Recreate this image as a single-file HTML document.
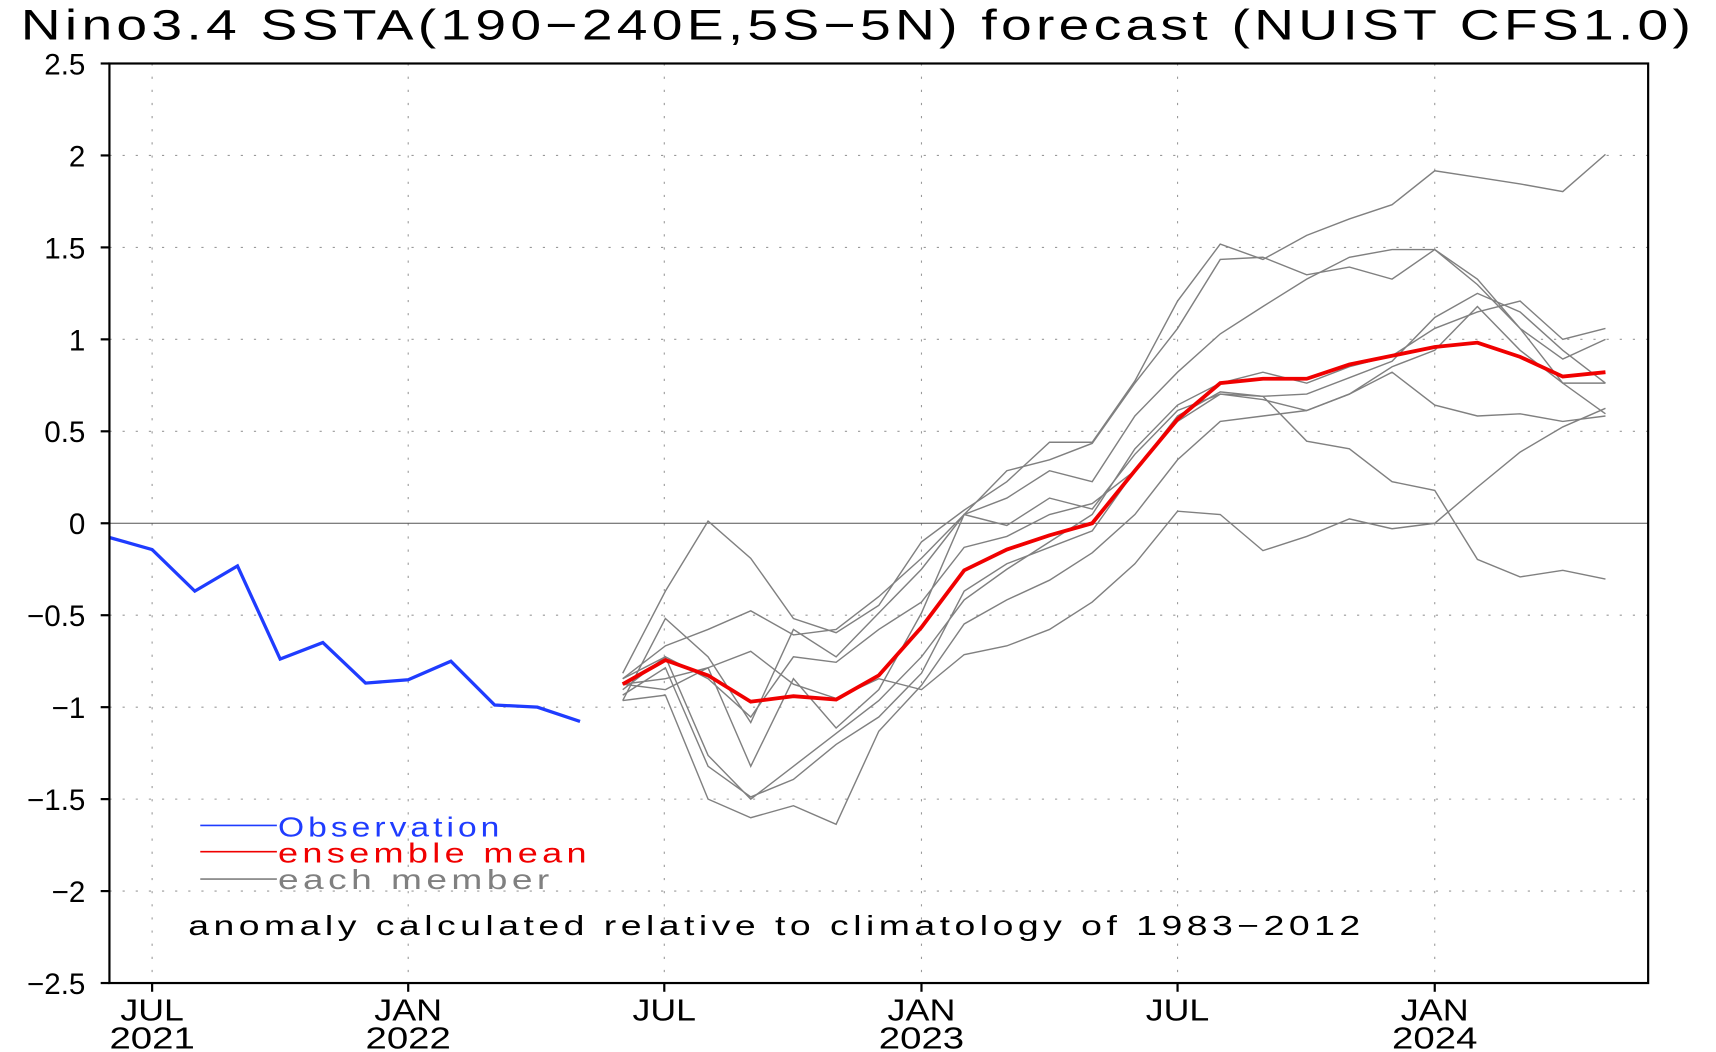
<!DOCTYPE html>
<html><head><style>html,body{margin:0;padding:0;background:#fff;overflow:hidden}svg{display:block}</style></head>
<body>
<svg width="1716" height="1052" viewBox="0 0 1568 961" preserveAspectRatio="none" xmlns="http://www.w3.org/2000/svg" font-family="'Liberation Sans','DejaVu Sans',sans-serif">
<rect width="1568" height="961" fill="#fff"/>
<text x="784" y="36" font-size="39" text-anchor="middle" letter-spacing="3" textLength="1530" lengthAdjust="spacingAndGlyphs">Nino3.4 SSTA(190−240E,5S−5N) forecast (NUIST CFS1.0)</text>
<g stroke="#999" stroke-width="1" stroke-dasharray="2,10">
<line x1="100" y1="142" x2="1506" y2="142"/><line x1="100" y1="226" x2="1506" y2="226"/><line x1="100" y1="310" x2="1506" y2="310"/><line x1="100" y1="394" x2="1506" y2="394"/><line x1="100" y1="562" x2="1506" y2="562"/><line x1="100" y1="646" x2="1506" y2="646"/><line x1="100" y1="730" x2="1506" y2="730"/><line x1="100" y1="814" x2="1506" y2="814"/>
<line x1="139" y1="58" x2="139" y2="898"/><line x1="373" y1="58" x2="373" y2="898"/><line x1="607" y1="58" x2="607" y2="898"/><line x1="842" y1="58" x2="842" y2="898"/><line x1="1076" y1="58" x2="1076" y2="898"/><line x1="1311" y1="58" x2="1311" y2="898"/>
</g>
<line x1="100" y1="478" x2="1506" y2="478" stroke="#555" stroke-width="1"/>
<g fill="none" stroke="#808080" stroke-width="1.3">
<polyline points="569,615 608,540 647,476 686,510 725,565 764,578 803,553 842,495 881,466 920,440 959,404 998,404 1037,348 1076,275 1115,223 1154,237 1194,215 1233,200 1272,187 1311,156 1350,162 1389,168 1428,175 1467,141"/>
<polyline points="569,640 608,565 647,600 686,660 725,575 764,600 803,560 842,520 881,470 920,430 959,420 998,405 1037,350 1076,300 1115,237 1154,235 1194,251 1233,244 1272,255 1311,228 1350,260 1389,300 1428,328 1467,310"/>
<polyline points="569,620 608,590 647,575 686,558 725,580 764,575 803,545 842,510 881,470 920,455 959,430 998,440 1037,380 1076,340 1115,305 1154,280 1194,255 1233,235 1272,228 1311,228 1350,255 1389,300 1428,350 1467,378"/>
<polyline points="569,630 608,600 647,690 686,730 725,700 764,670 803,640 842,600 881,548 920,520 959,495 998,470 1037,410 1076,370 1115,350 1154,340 1194,350 1233,335 1272,325 1311,300 1350,285 1389,275 1428,310 1467,300"/>
<polyline points="569,635 608,610 647,700 686,728 725,712 764,680 803,655 842,615 881,540 920,515 959,500 998,485 1037,430 1076,380 1115,358 1154,362 1194,360 1233,345 1272,330 1311,290 1350,268 1389,285 1428,320 1467,350"/>
<polyline points="569,625 608,620 647,610 686,700 725,620 764,665 803,630 842,560 881,470 920,480 959,455 998,465 1037,415 1076,375 1115,360 1154,365 1194,375 1233,360 1272,335 1311,320 1350,280 1389,320 1428,350 1467,350"/>
<polyline points="569,620 608,600 647,620 686,655 725,600 764,605 803,575 842,550 881,500 920,490 959,470 998,460 1037,430 1076,385 1115,360 1154,362 1194,403 1233,410 1272,440 1311,448 1350,511 1389,527 1428,521 1467,529"/>
<polyline points="569,640 608,635 647,730 686,747 725,736 764,753 803,668 842,626 881,570 920,548 959,530 998,505 1037,470 1076,420 1115,385 1154,380 1194,375 1233,360 1272,340 1311,370 1350,380 1389,378 1428,385 1467,380"/>
<polyline points="569,625 608,630 647,610 686,595 725,625 764,638 803,620 842,630 881,598 920,590 959,575 998,550 1037,515 1076,467 1115,470 1154,503 1194,490 1233,474 1272,483 1311,478 1350,445 1389,413 1428,390 1467,373"/>
</g>
<polyline fill="none" stroke="#1f3cff" stroke-width="3" points="100,491 139,502 178,540 217,517 256,602 295,587 334,624 373,621 412,604 452,644 491,646 530,659"/>
<polyline fill="none" stroke="#f00000" stroke-width="3.5" points="569,625 608,603 647,617 686,641 725,636 764,639 803,617 842,573 881,521 920,502 959,489 998,478 1037,430 1076,383 1115,350 1154,346 1194,346 1233,333 1272,325 1311,317 1350,313 1389,326 1428,344 1467,340"/>
<rect x="100" y="58" width="1406" height="840" fill="none" stroke="#000" stroke-width="2"/>
<g stroke="#000" stroke-width="2">
<line x1="92" y1="58" x2="100" y2="58"/><line x1="92" y1="142" x2="100" y2="142"/><line x1="92" y1="226" x2="100" y2="226"/><line x1="92" y1="310" x2="100" y2="310"/><line x1="92" y1="394" x2="100" y2="394"/><line x1="92" y1="478" x2="100" y2="478"/><line x1="92" y1="562" x2="100" y2="562"/><line x1="92" y1="646" x2="100" y2="646"/><line x1="92" y1="730" x2="100" y2="730"/><line x1="92" y1="814" x2="100" y2="814"/><line x1="92" y1="898" x2="100" y2="898"/>
<line x1="139" y1="898" x2="139" y2="906"/><line x1="373" y1="898" x2="373" y2="906"/><line x1="607" y1="898" x2="607" y2="906"/><line x1="842" y1="898" x2="842" y2="906"/><line x1="1076" y1="898" x2="1076" y2="906"/><line x1="1311" y1="898" x2="1311" y2="906"/>
</g>
<g font-size="27" text-anchor="end">
<text x="78" y="68">2.5</text><text x="78" y="152">2</text><text x="78" y="236">1.5</text><text x="78" y="320">1</text><text x="78" y="404">0.5</text><text x="78" y="488">0</text><text x="78" y="572">−0.5</text><text x="78" y="656">−1</text><text x="78" y="740">−1.5</text><text x="78" y="824">−2</text><text x="78" y="908">−2.5</text>
</g>
<g font-size="28" text-anchor="middle" lengthAdjust="spacingAndGlyphs">
<text x="139" y="932" textLength="58" lengthAdjust="spacingAndGlyphs">JUL</text><text x="139" y="958" textLength="78" lengthAdjust="spacingAndGlyphs">2021</text>
<text x="373" y="932" textLength="62" lengthAdjust="spacingAndGlyphs">JAN</text><text x="373" y="958" textLength="78" lengthAdjust="spacingAndGlyphs">2022</text>
<text x="607" y="932" textLength="58" lengthAdjust="spacingAndGlyphs">JUL</text>
<text x="842" y="932" textLength="62" lengthAdjust="spacingAndGlyphs">JAN</text><text x="842" y="958" textLength="78" lengthAdjust="spacingAndGlyphs">2023</text>
<text x="1076" y="932" textLength="58" lengthAdjust="spacingAndGlyphs">JUL</text>
<text x="1311" y="932" textLength="62" lengthAdjust="spacingAndGlyphs">JAN</text><text x="1311" y="958" textLength="78" lengthAdjust="spacingAndGlyphs">2024</text>
</g>
<line x1="183" y1="754" x2="253" y2="754" stroke="#1f3cff" stroke-width="1.5"/>
<line x1="183" y1="778" x2="253" y2="778" stroke="#f00000" stroke-width="1.5"/>
<line x1="183" y1="803" x2="253" y2="803" stroke="#808080" stroke-width="1.5"/>
<g font-size="25" letter-spacing="3">
<text x="254" y="764" fill="#1f3cff" textLength="206" lengthAdjust="spacingAndGlyphs">Observation</text>
<text x="254" y="788" fill="#f00000" textLength="286" lengthAdjust="spacingAndGlyphs">ensemble  mean</text>
<text x="254" y="812" fill="#808080" textLength="252" lengthAdjust="spacingAndGlyphs">each  member</text>
<text x="172" y="854" fill="#000" textLength="1075" lengthAdjust="spacingAndGlyphs">anomaly calculated relative to climatology of 1983−2012</text>
</g>
</svg>
</body></html>
